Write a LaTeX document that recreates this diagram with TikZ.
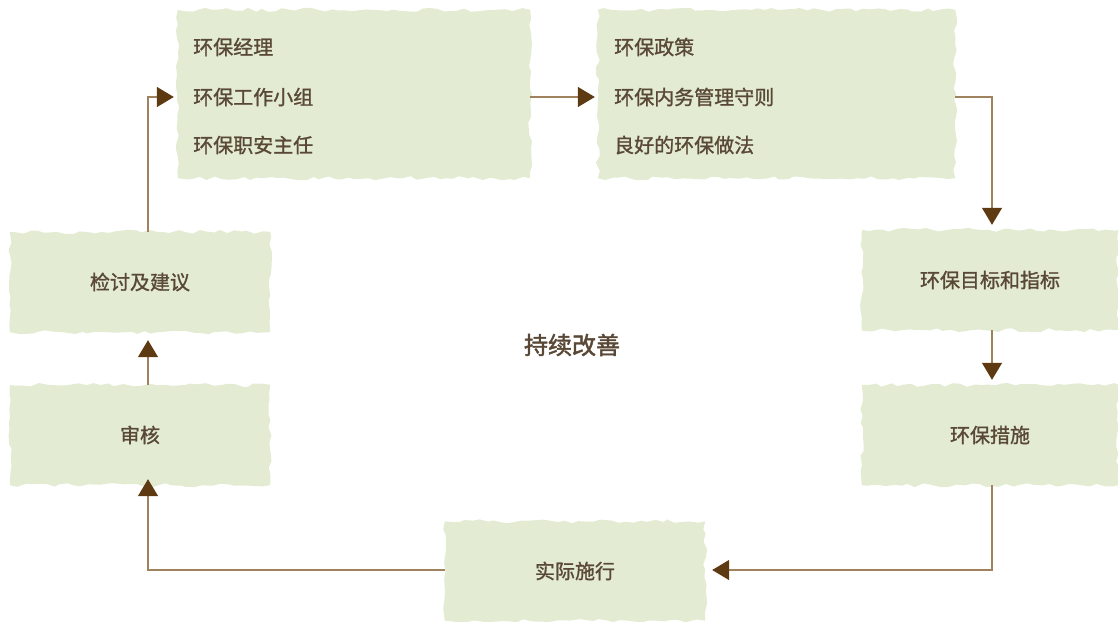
\documentclass[tikz,border=0pt]{standalone}
\usepackage{fontspec}
\newfontfamily\cjk{Noto Sans CJK SC}[FakeBold=1.2]
\newfontfamily\cjkb{Noto Sans CJK SC}[FakeBold=2]
\usetikzlibrary{arrows.meta,decorations.pathmorphing,backgrounds}
\definecolor{boxgreen}{HTML}{E3ECD2}
\definecolor{txtbrown}{HTML}{5A4836}
\definecolor{linebrown}{HTML}{A0825F}
\definecolor{tipbrown}{HTML}{5E3A12}
\tikzset{
  box/.style={minimum width=#1, inner sep=0pt, font=\cjk\fontsize{20}{24}\selectfont, text=txtbrown},
  line/.style={txtbrown, text=txtbrown, font=\cjk\fontsize{20}{24}\selectfont, anchor=west, inner sep=0pt},
  rough/.style={fill=boxgreen, decorate, decoration={random steps, segment length=7pt, amplitude=2pt}},
  conn/.style={draw=linebrown, line width=1.4pt, -{Triangle[length=17pt,width=20pt,color=tipbrown]}},
}
\begin{document}
\begin{tikzpicture}[x=1pt,y=-1pt]
\pgfmathsetseed{7}
\useasboundingbox (0,0) rectangle (1118,621);
% boxes
\node[box=352pt, minimum height=168pt] (A) at (354,94) {};
\node[box=357pt, minimum height=168pt] (B) at (776.5,94) {};
\node[box=256pt, minimum height=100pt] (C) at (990,280) {环保目标和指标};
\node[box=256pt, minimum height=100pt] (D) at (990,435) {环保措施};
\node[box=260pt, minimum height=99pt] (E) at (575,571) {实际施行};
\node[box=260pt, minimum height=100pt] (F) at (140,435) {审核};
\node[box=260pt, minimum height=100pt] (G) at (140,282) {检讨及建议};
% list texts
\node[line] (a1) at (193,47) {环保经理};
\node[line] (a2) at (193,97) {环保工作小组};
\node[line] (a3) at (193,145) {环保职安主任};
\node[line] (b1) at (614,47) {环保政策};
\node[line] (b2) at (614,97) {环保内务管理守则};
\node[line] (b3) at (614,145) {良好的环保做法};
% centre
\node[font=\cjkb\fontsize{24}{28}\selectfont, text=txtbrown] (M) at (572,345) {持续改善};
% rough backgrounds
\begin{scope}[on background layer]
\foreach \n in {A,B,C,D,E,F,G}{
  \path[rough] (\n.south west) rectangle (\n.north east);
}
\end{scope}
% connectors
\draw[conn] ([xshift=8pt]G.north) |- ([xshift=-4pt]A.west |- a2.west);
\draw[conn] (A.east |- a2.west) -- ([xshift=-3pt]B.west |- b2.west);
\draw[conn] (B.east |- b2.west) -| ([xshift=2pt,yshift=5pt]C.north);
\draw[conn] ([xshift=2pt]C.south) -- ([xshift=2pt,yshift=5pt]D.north);
\draw[conn] ([xshift=2pt]D.south) |- ([xshift=7pt,yshift=1pt]E.east);
\draw[conn] ([yshift=1pt]E.west) -| ([xshift=8pt,yshift=6pt]F.south);
\draw[conn] ([xshift=8pt]F.north) -- ([xshift=8pt,yshift=-8pt]G.south);
\end{tikzpicture}
\end{document}
